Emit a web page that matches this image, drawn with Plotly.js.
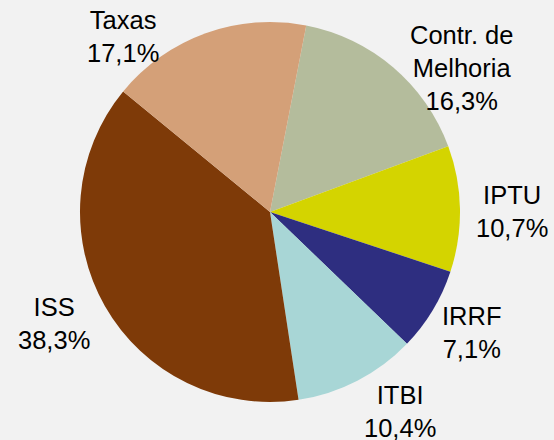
<!DOCTYPE html>
<html>
<head>
<meta charset="utf-8">
<script src="https://cdn.plot.ly/plotly-3.0.1.min.js"></script>
<style>html,body{margin:0;padding:0;background:#f2f2f2;}</style>
</head>
<body>
<div id="chart" style="width:554px;height:440px;"></div>
<script>
const labels = ["Contr. de<br>Melhoria", "IPTU", "IRRF", "ITBI", "ISS", "Taxas"];
const values = [16.3, 10.7, 7.1, 10.4, 38.3, 17.1];
const colors = ["#b4bc9c", "#d4d400", "#2e2e80", "#a8d6d6", "#7e3a08", "#d4a078"];

// label placement (style): angular shift (deg) and radial distance (x radius)
const labelShift = [12.7, 0.9, -0.2, -5.8, 2.4, -20.1];
const labelDist = [1.259, 1.276, 1.238, 1.255, 1.281, 1.203];

const W = 554, H = 440;
const dom = {x: [80 / W, 460 / W], y: [38 / H, 418 / H]};
const rotation = 11;
const cx = (dom.x[0] + dom.x[1]) / 2 * W;
const cy = H - (dom.y[0] + dom.y[1]) / 2 * H;
const R = Math.min((dom.x[1] - dom.x[0]) * W, (dom.y[1] - dom.y[0]) * H) / 2;

const total = values.reduce((a, b) => a + b, 0);
const fmt = v => v.toFixed(1).replace(".", ",") + "%";
let cum = 0;
const annotations = values.map((v, i) => {
  const mid = rotation + (cum + v / 2) / total * 360 + labelShift[i];
  cum += v;
  const a = mid * Math.PI / 180;
  const d = R * labelDist[i];
  const px = cx + d * Math.sin(a), py = cy - d * Math.cos(a);
  return {
    xref: "paper", yref: "paper", x: px / W, y: 1 - py / H,
    xanchor: "center", yanchor: "middle", align: "center",
    showarrow: false,
    text: labels[i] + "<br>" + fmt(v),
    font: {family: "Liberation Sans, Arial, sans-serif", size: 25.5, color: "#000"}
  };
});

Plotly.newPlot("chart", [{
  type: "pie",
  labels: labels,
  values: values,
  sort: false,
  direction: "clockwise",
  rotation: rotation,
  marker: {colors: colors, line: {width: 0}},
  textinfo: "none",
  hoverinfo: "none",
  domain: dom
}], {
  width: W, height: H,
  margin: {l: 0, r: 0, t: 0, b: 0},
  paper_bgcolor: "#f2f2f2",
  plot_bgcolor: "#f2f2f2",
  showlegend: false,
  annotations: annotations
}, {displayModeBar: false, staticPlot: true});
</script>
</body>
</html>
